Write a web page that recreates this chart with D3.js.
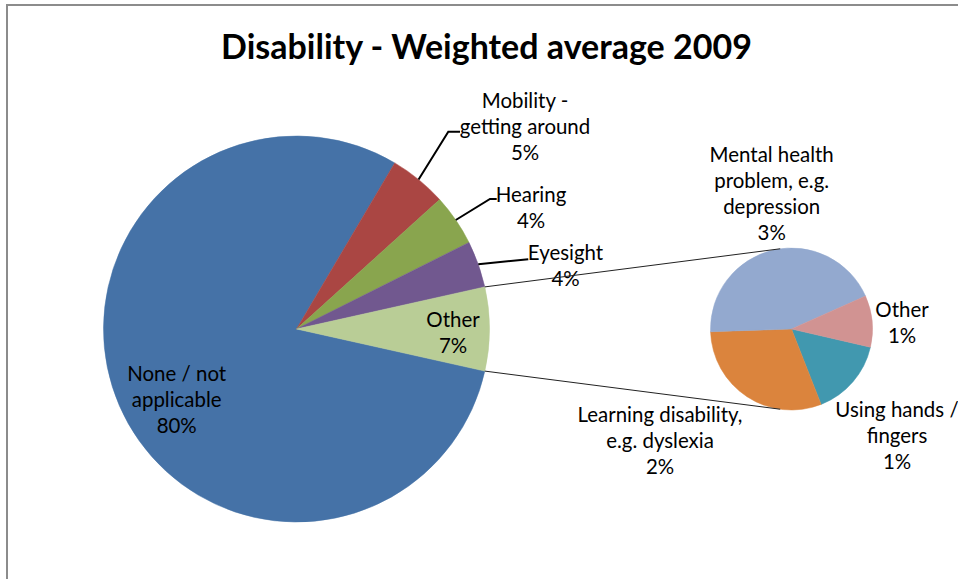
<!DOCTYPE html>
<html>
<head>
<meta charset="utf-8">
<script src="https://cdn.jsdelivr.net/npm/d3@7"></script>
<style>
  html, body { margin: 0; padding: 0; background: #fff; }
  svg { display: block; }
</style>
</head>
<body>
<svg id="chart" width="958" height="579"></svg>
<script>
// ---- data ----
const title = "Disability - Weighted average 2009";
const mainCategories = ["None / not applicable", "Mobility - getting around", "Hearing", "Eyesight", "Other"];
const mainValues = [80.0, 4.8, 4.3, 3.9, 7.0];
const mainColors = ["#4572A7", "#AA4643", "#89A54E", "#71588F", "#B9CD96"];
const mainLabelLines = [["None / not", "applicable"], ["Mobility -", "getting around"], ["Hearing"], ["Eyesight"], ["Other"]];

const secondaryCategories = ["Using hands / fingers", "Learning disability, e.g. dyslexia", "Mental health problem, e.g. depression", "Other"];
const secondaryValues = [1.08, 2.13, 3.07, 0.72];
const secondaryColors = ["#4198AF", "#DB843D", "#93A9CF", "#D19392"];
const secondaryLabelLines = [["Using hands /", "fingers"], ["Learning disability,", "e.g. dyslexia"], ["Mental health", "problem, e.g.", "depression"], ["Other"]];

// ---- layout ----
const svg = d3.select("#chart");
const W = 958, H = 579;
const FONT = "Lato, 'Open Sans', sans-serif";
svg.append("rect").attr("width", W).attr("height", H).attr("fill", "#fff");

// chart frame (clipped by the window on right and bottom)
svg.append("line").attr("x1", 6).attr("x2", W).attr("y1", 5).attr("y2", 5).attr("stroke", "#8c8c8c").attr("stroke-width", 2);
svg.append("line").attr("x1", 7).attr("x2", 7).attr("y1", 4).attr("y2", H).attr("stroke", "#8c8c8c").attr("stroke-width", 2);

const total = d3.sum(mainValues);
const pct = d3.format(".0%");

const main = { cx: 296.5, cy: 329, r: 193 };
const sec = { cx: 791.5, cy: 329, r: 81 };

const otherIdx = mainValues.length - 1;
const otherHalf = mainValues[otherIdx] / total * Math.PI; // half the angle of "Other"
const mainStart = Math.PI / 2 + otherHalf;

const mainPie = d3.pie().sort(null).value(d => d)
  .startAngle(mainStart).endAngle(mainStart + 2 * Math.PI);
const mainArcs = mainPie(mainValues);

const secStart = (103 / 180) * Math.PI;
const secPie = d3.pie().sort(null).value(d => d)
  .startAngle(secStart).endAngle(secStart + 2 * Math.PI);
const secArcs = secPie(secondaryValues);

const mainArc = d3.arc().innerRadius(0).outerRadius(main.r);
const secArc = d3.arc().innerRadius(0).outerRadius(sec.r);

const gMain = svg.append("g").attr("transform", `translate(${main.cx},${main.cy})`);
gMain.selectAll("path").data(mainArcs).join("path")
  .attr("d", mainArc)
  .attr("fill", (d, i) => mainColors[i])
  .attr("stroke", (d, i) => mainColors[i]).attr("stroke-width", 0.5);

const gSec = svg.append("g").attr("transform", `translate(${sec.cx},${sec.cy})`);
gSec.selectAll("path").data(secArcs).join("path")
  .attr("d", secArc)
  .attr("fill", (d, i) => secondaryColors[i])
  .attr("stroke", (d, i) => secondaryColors[i]).attr("stroke-width", 0.5);

// polar helper (d3 angle: 0 at top, clockwise)
const polar = (c, r, a) => [c.cx + r * Math.sin(a), c.cy - r * Math.cos(a)];

// connector lines between "Other" slice and secondary pie
const oa = mainArcs[otherIdx];
const p1 = polar(main, main.r, oa.startAngle);
const p2 = polar(main, main.r, oa.endAngle);
const q1 = polar(sec, sec.r, -8 / 180 * Math.PI);
const q2 = polar(sec, sec.r, 188 / 180 * Math.PI);

// ---- fonts: fit label size ----
const probe = svg.append("text").attr("font-family", FONT).attr("font-size", 20).text("Learning disability,");
const lw = probe.node().getComputedTextLength();
probe.remove();
const labelSize = 20 * 165 / lw;

const tprobe = svg.append("text").attr("font-family", FONT).attr("font-weight", "bold").attr("font-size", 30).text(title);
const tw = tprobe.node().getComputedTextLength();
tprobe.remove();
const titleSize = 30 * 531 / tw;

svg.append("text").attr("x", 486.5).attr("y", 58.5)
  .attr("text-anchor", "middle").attr("font-family", FONT).attr("font-weight", "bold")
  .attr("font-size", titleSize).attr("fill", "#000").text(title);

// ---- label layout ----
const LH = 26;
const mainLabelPos = [
  { x: 176.7, y: 381 },
  { x: 525, y: 108, leader: [[448.3, 131.7], [460, 131.7]] },
  { x: 531, y: 201.7, leader: [[490, 199], [496.7, 199]] },
  { x: 565.5, y: 260, leader: [[528.3, 259.3]] },
  { x: 453, y: 326.7 }
];
const secLabelPos = [
  { x: 897, y: 416.7 },
  { x: 660, y: 421.7 },
  { x: 771.7, y: 161.7 },
  { x: 902, y: 316.7 }
];

// leader lines
mainLabelPos.forEach((p, i) => {
  if (!p.leader) return;
  const a = mainArcs[i];
  const start = polar(main, main.r, (a.startAngle + a.endAngle) / 2);
  const pts = [start].concat(p.leader);
  svg.append("path").attr("d", d3.line()(pts))
    .attr("fill", "none").attr("stroke", "#000").attr("stroke-width", 2);
});

function drawLabel(pos, lines, value) {
  const t = svg.append("text").attr("font-family", FONT).attr("font-size", labelSize)
    .attr("fill", "#000").attr("text-anchor", "middle");
  const all = lines.concat([pct(value / total)]);
  all.forEach((s, k) => {
    t.append("tspan").attr("x", pos.x).attr("y", pos.y + k * LH).text(s);
  });
}
mainLabelPos.forEach((p, i) => drawLabel(p, mainLabelLines[i], mainValues[i]));
secLabelPos.forEach((p, i) => drawLabel(p, secondaryLabelLines[i], secondaryValues[i]));

// connector lines on top
svg.append("line").attr("x1", p1[0]).attr("y1", p1[1]).attr("x2", q1[0]).attr("y2", q1[1])
  .attr("stroke", "#222").attr("stroke-width", 1);
svg.append("line").attr("x1", p2[0]).attr("y1", p2[1]).attr("x2", q2[0]).attr("y2", q2[1])
  .attr("stroke", "#222").attr("stroke-width", 1);
</script>
</body>
</html>
